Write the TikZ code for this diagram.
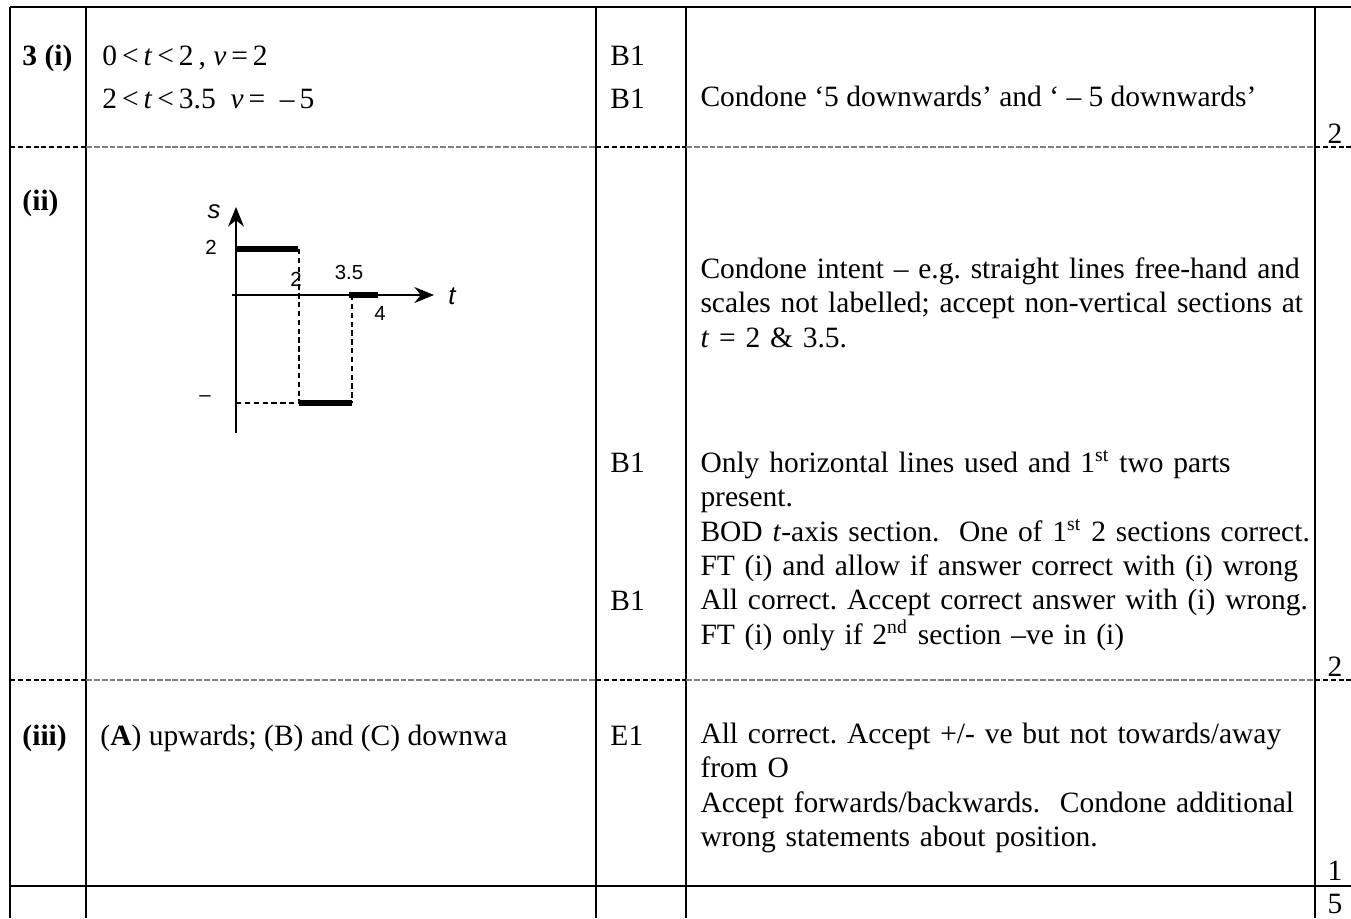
\documentclass[tikz,border=0pt]{standalone}
\usepackage{fontspec}
\setmainfont{Liberation Serif}
\newfontfamily\graphfont{Liberation Sans}
\usetikzlibrary{positioning, arrows.meta, calc}
\frenchspacing

\begin{document}
\begin{tikzpicture}[x=0.407pt, y=-0.407pt,
    rule/.style={line width=0.8pt},
    rowdash/.style={line width=0.6pt, dash pattern=on 2pt off 1.2pt},
    greydash/.style={line width=1pt, gray, dash pattern=on 2.4pt off 0.8pt},
    lbl/.style={anchor=base west, inner sep=0pt, font=\fontsize{12}{14.04}\selectfont},
    cell/.style={lbl, text width=250pt, align=left},
    score/.style={anchor=base, inner sep=0pt, font=\fontsize{12}{14.04}\selectfont},
    bar/.style={line width=2.4pt},
    guide/.style={line width=0.45pt, dash pattern=on 2.2pt off 1.4pt},
    axis/.style={line width=0.6pt, -{Stealth[length=8pt, width=6.5pt, inset=2.6pt]}},
    numlabel/.style={inner sep=0pt, font=\graphfont\fontsize{8.3}{9}\selectfont},
    axlabel/.style={inner sep=0pt, font=\graphfont\itshape\fontsize{10.5}{11}\selectfont}]

    \useasboundingbox (0,0) rectangle (1351,918);

    % table frame
    \draw[rule] (10,7) -- (1351,7);
    \draw[rule] (10,886) -- (1351,886);
    \draw[rule] (10,7) -- (10,918);
    \draw[rule] (86,7) -- (86,918);
    \draw[rule] (596,7) -- (596,918);
    \draw[rule] (686,7) -- (686,918);
    \draw[rule] (1315,7) -- (1315,918);

    % dashed row separators
    \draw[rowdash] (10,147) -- (86,147);
    \draw[greydash] (86,147) -- (596,147);
    \draw[rowdash] (596,147) -- (686,147);
    \draw[greydash] (686,147) -- (1315,147);
    \draw[rowdash] (1315,147) -- (1351,147);
    \draw[rowdash] (10,680) -- (86,680);
    \draw[greydash] (86,680) -- (596,680);
    \draw[rowdash] (596,680) -- (686,680);
    \draw[greydash] (686,680) -- (1315,680);
    \draw[rowdash] (1315,680) -- (1351,680);

    % part (i)
    \node[lbl] (partI) at (22,65) {\textbf{3 (i)}};
    \node[lbl] (ansA) at (102,65) {0\,<\,\textit{t}\,<\,2\,,\ \textit{v}\,=\,2};
    \node[lbl] (ansB) at (102,108) {2\,<\,\textit{t}\,<\,3.5\ \ \textit{v}\,=\ \ –\,5};
    \node[lbl] (mkA) at (610,65) {B1};
    \node[lbl] (mkB) at (610,108) {B1};
    \node[lbl] (noteI) at (700,106) {Condone ‘5 downwards’ and ‘ – 5 downwards’};
    \node[score] (totI) at (1335,143) {2};

    % part (ii)
    \node[lbl] (partII) at (22,210) {\textbf{(ii)}};
    \node[cell] (noteIIa) at (700,278) {Condone intent – e.g. straight lines free-hand and\\
        scales not labelled; accept non-vertical sections at\\
        \textit{t} = 2 \& 3.5.};
    \node[lbl] (mkC) at (610,472) {B1};
    \node[lbl] (mkD) at (610,610) {B1};
    \node[cell] (noteIIb) at (700,472) {Only horizontal lines used and 1\textsuperscript{st} two parts\\
        present.\\
        BOD \textit{t}-axis section.\ \ One of 1\textsuperscript{st} 2 sections correct.\\
        FT (i) and allow if answer correct with (i) wrong\\
        All correct. Accept correct answer with (i) wrong.\\
        FT (i) only if 2\textsuperscript{nd} section –ve in (i)};
    \node[score] (totII) at (1335,676) {2};

    % sketch graph
    \coordinate (O) at (236,295);
    \draw[axis] (236,433) -- (236,207);
    \draw[axis] (232,295) -- (434,295);
    \node[axlabel] (lbS) at (214,212) {s};
    \node[axlabel] (lbT) at (452,296) {t};
    \node[numlabel] (yTwo) at (211,247) {2};
    \node[numlabel] (yNeg) at (205,399) {–};
    \node[numlabel] (xTwo) at (296,279) {2};
    \node[numlabel] (xMid) at (349,272) {3.5};
    \node[numlabel] (xFour) at (380,313) {4};
    \draw[guide] (299,249) -- (299,403);
    \draw[guide] (352,295) -- (352,403);
    \draw[guide] (236,403) -- (299,403);
    \draw[bar] (236,249) -- (298,249);
    \draw[bar] (299,403) -- (352,403);
    \draw[bar] (349,295) -- (378,295);

    % part (iii)
    \node[lbl] (partIII) at (22,745) {\textbf{(iii)}};
    \node[lbl] (ansC) at (100,745) {(\textbf{A}) upwards; (B) and (C) downwa};
    \node[lbl] (mkE) at (610,745) {E1};
    \node[cell] (noteIII) at (700,743) {All correct. Accept +/- ve but not towards/away\\
        from O\\
        Accept forwards/backwards.\ \ Condone additional\\
        wrong statements about position.};
    \node[score] (totIII) at (1335,880) {1};

    % total
    \node[score] (total) at (1335,913) {5};
\end{tikzpicture}
\end{document}
